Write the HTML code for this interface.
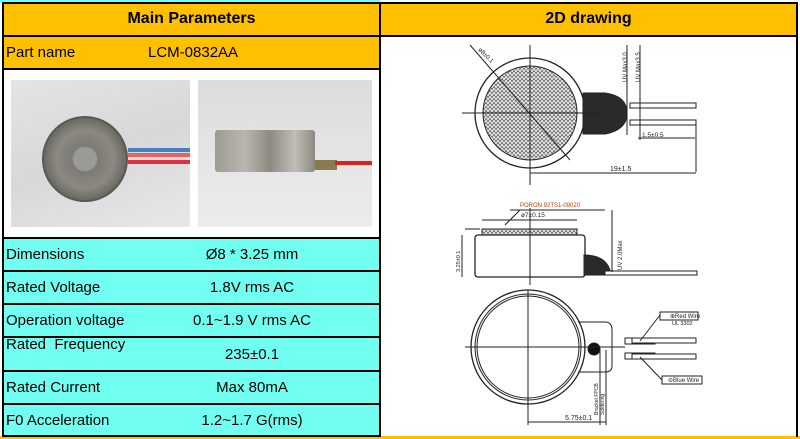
<!DOCTYPE html>
<html><head><meta charset="utf-8"><style>
*{margin:0;padding:0;box-sizing:border-box}
body{width:800px;height:439px;background:#fff;position:relative;overflow:hidden;font-family:"Liberation Sans",sans-serif;color:#000}
.a{position:absolute}
.or{background:#ffc000}
.cy{background:#70fff0}
.b{border:2px solid #000}
.t{font-size:15px;line-height:1}
</style></head><body>
<div class="a cy" style="left:0;top:0;width:380px;height:3px"></div>
<div class="a" style="left:0;top:436px;width:800px;height:3px;background:#ffc000"></div>
<!-- left table -->
<div class="a or b" style="left:2px;top:2px;width:379px;height:35px"></div>
<div class="a" style="left:2px;top:10px;width:379px;text-align:center;font-weight:bold;font-size:16px">Main Parameters</div>
<div class="a or b" style="left:2px;top:35px;width:379px;height:35px"></div>
<div class="a t" style="left:6px;top:45px">Part name</div>
<div class="a t" style="left:148px;top:45px">LCM-0832AA</div>
<div class="a b" style="left:2px;top:68px;width:379px;height:171px;background:#fff"></div>
<div class="a" style="left:11px;top:80px;width:179px;height:147px;background:linear-gradient(160deg,#e4e4e4,#d8d8d8 50%,#e8e8ea)"></div>
<div class="a" style="left:42px;top:116px;width:86px;height:86px;border-radius:50%;background:radial-gradient(circle,#9a9a96 0 20%,#7c7a74 22%,#8b8982 50%,#6c6a64 70%,#8a8880 100%);border:2px solid #5a5852"></div>
<div class="a" style="left:128px;top:148px;width:62px;height:4px;background:#4a7ec0"></div>
<div class="a" style="left:128px;top:153px;width:62px;height:4px;background:#d66"></div>
<div class="a" style="left:128px;top:160px;width:62px;height:4px;background:#e03040"></div>
<div class="a" style="left:198px;top:80px;width:174px;height:147px;background:linear-gradient(#dcdcdc,#e6e6e6 60%,#ececec)"></div>
<div class="a" style="left:215px;top:130px;width:100px;height:42px;background:linear-gradient(90deg,#9d9b94,#b8b6ae 30%,#8d8a82 55%,#c0beb6 80%,#8a887f);border-radius:3px"></div>
<div class="a" style="left:315px;top:160px;width:22px;height:10px;background:#8a7a50"></div>
<div class="a" style="left:335px;top:161px;width:37px;height:4px;background:#e02020"></div>
<div class="a cy b" style="left:2px;top:237px;width:379px;height:35px"></div>
<div class="a cy b" style="left:2px;top:270px;width:379px;height:35px"></div>
<div class="a cy b" style="left:2px;top:303px;width:379px;height:35px"></div>
<div class="a cy b" style="left:2px;top:336px;width:379px;height:36px"></div>
<div class="a cy b" style="left:2px;top:370px;width:379px;height:35px"></div>
<div class="a cy b" style="left:2px;top:403px;width:379px;height:34px"></div>
<div class="a t" style="left:6px;top:247px">Dimensions</div>
<div class="a t" style="left:6px;top:280px">Rated Voltage</div>
<div class="a t" style="left:6px;top:313px">Operation voltage</div>
<div class="a t" style="left:6px;top:337px">Rated&nbsp; Frequency</div>
<div class="a t" style="left:6px;top:380px">Rated Current</div>
<div class="a t" style="left:6px;top:413px">F0 Acceleration</div>
<div class="a t" style="left:142px;top:247px;width:220px;text-align:center">Ø8 * 3.25 mm</div>
<div class="a t" style="left:142px;top:280px;width:220px;text-align:center">1.8V rms AC</div>
<div class="a t" style="left:142px;top:313px;width:220px;text-align:center">0.1~1.9 V rms AC</div>
<div class="a t" style="left:142px;top:347px;width:220px;text-align:center">235±0.1</div>
<div class="a t" style="left:142px;top:380px;width:220px;text-align:center">Max 80mA</div>
<div class="a t" style="left:142px;top:413px;width:220px;text-align:center">1.2~1.7 G(rms)</div>
<!-- right -->
<div class="a or b" style="left:379px;top:2px;width:419px;height:35px"></div>
<div class="a" style="left:379px;top:10px;width:419px;text-align:center;font-weight:bold;font-size:16px">2D drawing</div>
<div class="a" style="left:379px;top:35px;width:2px;height:402px;background:#000"></div>
<div class="a" style="left:796px;top:35px;width:2px;height:402px;background:#000"></div>
<svg class="a" style="left:0;top:0" width="800" height="439" viewBox="0 0 800 439">
<defs><pattern id="h" width="4" height="4" patternUnits="userSpaceOnUse"><rect width="4" height="4" fill="#777"/><path d="M0 4L2 0L4 4" stroke="#f4f4f4" stroke-width="1" fill="none"/></pattern></defs>
<g stroke="#222" stroke-width="1" fill="none" font-family="Liberation Sans" font-size="7">
<circle cx="530" cy="113" r="55" fill="#fff" stroke-width="1.3"/>
<path d="M583 93 L605 93 Q627 96 627 113 Q627 130 605 134 L583 134 Z" fill="#2a2a2a"/>
<circle cx="530" cy="113" r="47" fill="url(#h)"/>
<line x1="462" y1="113" x2="600" y2="113"/><line x1="530" y1="45" x2="530" y2="185"/>
<line x1="470" y1="45" x2="570" y2="160"/>
<rect x="630" y="103" width="66" height="5" fill="#fff"/><rect x="630" y="120" width="66" height="5" fill="#fff"/>
<line x1="627" y1="45" x2="627" y2="135"/><line x1="640" y1="45" x2="640" y2="140"/>
<line x1="638" y1="138" x2="695" y2="138"/><line x1="696" y1="125" x2="696" y2="172"/>
<line x1="530" y1="173" x2="696" y2="173"/>
<path d="M482 229 H577 V235 H482Z" fill="url(#h)"/>
<rect x="475" y="235" width="110" height="42" rx="3" fill="#fff" stroke-width="1.3"/>
<path d="M584 275 V255 Q605 255 610 270 V275Z" fill="#2a2a2a"/>
<rect x="605" y="271" width="92" height="4" fill="#fff"/>
<line x1="530" y1="208" x2="530" y2="285"/>
<line x1="482" y1="220" x2="577" y2="220"/><line x1="505" y1="225" x2="520" y2="210"/>
<line x1="510" y1="210" x2="605" y2="210"/>
<line x1="462" y1="235" x2="462" y2="277"/><line x1="465" y1="229" x2="480" y2="229"/>
<line x1="612" y1="210" x2="612" y2="272"/>
<circle cx="528" cy="347" r="57" fill="#fff" stroke-width="1.3"/><circle cx="528" cy="347" r="53"/><circle cx="528" cy="347" r="51"/>
<path d="M578 322 H605 Q612 322 612 330 V366 Q612 372 605 372 H578" />
<circle cx="594" cy="349" r="6" fill="#111"/>
<rect x="625" y="338" width="30" height="6" fill="#fff"/><rect x="632" y="338" width="64" height="5" fill="#fff"/>
<rect x="625" y="353" width="30" height="6" fill="#fff"/><rect x="632" y="354" width="64" height="5" fill="#fff"/>
<line x1="465" y1="347" x2="625" y2="347"/><line x1="528" y1="290" x2="528" y2="425"/>
<line x1="600" y1="350" x2="600" y2="425"/><line x1="606" y1="350" x2="606" y2="425"/>
<line x1="528" y1="422" x2="606" y2="422"/>
<line x1="640" y1="341" x2="660" y2="315"/><line x1="640" y1="357" x2="662" y2="380"/>
<rect x="660" y="312" width="38" height="8"/><rect x="662" y="376" width="40" height="8"/>
</g>
<g font-family="Liberation Sans" font-size="7" fill="#222">
<text x="610" y="171">19±1.5</text>
<text x="642" y="137" font-size="6.5">1.5±0.5</text>
<text x="521" y="217" font-size="6.5">ø7±0.15</text>
<text x="520" y="207" fill="#c04000" font-size="6">PORON 92TS1-09020</text>
<text x="565" y="420">5.75±0.1</text>
<text x="670" y="318" font-size="6">⊕Red Wire</text>
<text x="672" y="325" font-size="5.5">UL 3302</text>
<text x="668" y="382" font-size="6">⊖Blue Wire</text>
<text transform="translate(627,82) rotate(-90)" font-size="6">UV Max3.0</text>
<text transform="translate(640,82) rotate(-90)" font-size="6">UV Max3.5</text>
<text transform="translate(622,270) rotate(-90)" font-size="6">UV 2.0Max</text>
<text transform="translate(460,272) rotate(-90)" font-size="5.5">3.25±0.1</text>
<text transform="translate(598,415) rotate(-90)" font-size="5">Bracket FPCB</text>
<text transform="translate(604,415) rotate(-90)" font-size="5">Soldering</text>
<text transform="translate(478,50) rotate(45)" font-size="6">ø8±0.1</text>
</g>
</svg>
</body></html>
